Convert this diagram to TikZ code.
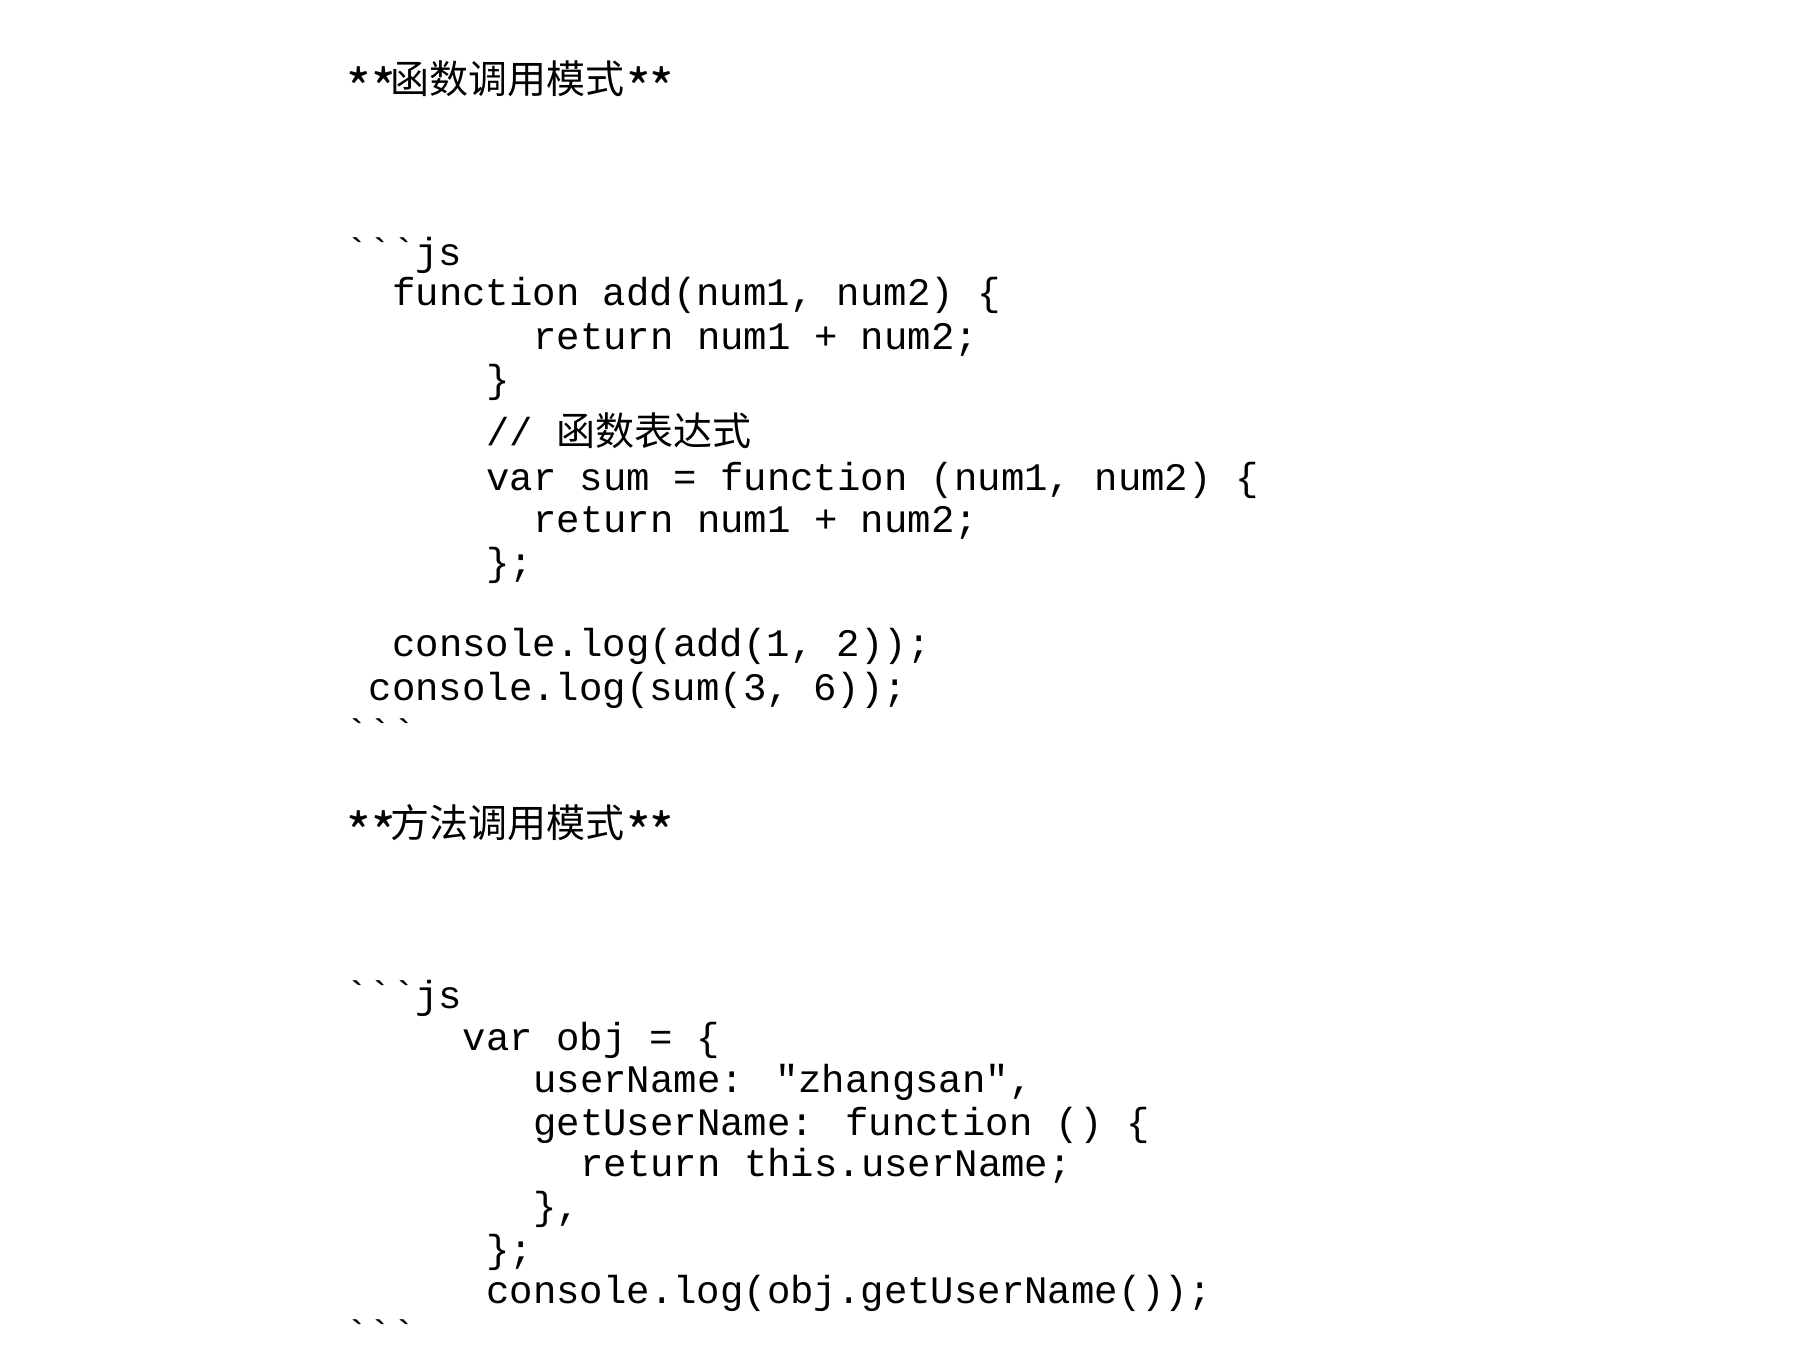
\documentclass[tikz,border=0pt]{standalone}
\usepackage{graphicx}
\usepackage{fontspec}
\newfontfamily\codefont{Liberation Mono}
\newfontfamily\cjk{Noto Sans CJK SC}
\newcommand\titleast{\makebox[17pt]{\raisebox{-15pt}{\scalebox{1.35}{*}}}}
\begin{document}
\begin{tikzpicture}[x=1pt,y=-1pt,
  code/.style={anchor=base west,inner sep=0pt,font=\codefont\fontsize{39}{43}\selectfont},
  heading/.style={anchor=base west,inner sep=0pt,font=\cjk\fontsize{39}{44}\selectfont}]
\useasboundingbox[fill=white] (0,0) rectangle (1815,1362);
% first part
\node[heading] (title1) at (350,94) {\titleast\hspace{8pt}\titleast\hspace{-2pt}函数调用模式\hspace{6pt}\titleast\hspace{6pt}\titleast};
\node[code] (open1) at (345,265) {\textasciigrave\textasciigrave\textasciigrave js};
\node[code] (addfn) at (392,305) {function add(num1, num2) \{};
\node[code] (addret) at (533,349) {return num1 + num2;};
\node[code] (addend) at (486,392) {\}};
\node[code] (comment) at (486,445) {// {\cjk 函数表达式}};
\node[code] (sumfn) at (486,490) {var sum = function (num1, num2) \{};
\node[code] (sumret) at (533,532) {return num1 + num2;};
\node[code] (sumend) at (486,575) {\};};
\node[code] (logadd) at (392,656) {console.log(add(1, 2));};
\node[code] (logsum) at (368.5,700) {console.log(sum(3, 6));};
\node[code] (close1) at (345,746) {\textasciigrave\textasciigrave\textasciigrave};
% second part
\node[heading] (title2) at (350,837) {\titleast\hspace{8pt}\titleast\hspace{-2pt}方法调用模式\hspace{6pt}\titleast\hspace{6pt}\titleast};
\node[code] (open2) at (345,1008) {\textasciigrave\textasciigrave\textasciigrave js};
\node[code] (objvar) at (462.5,1050) {var obj = \{};
\node[code] (objname) at (533,1092) {userName: "zhangsan",};
\node[code] (objget) at (533,1135) {getUserName: function () \{};
\node[code] (objret) at (580,1176) {return this.userName;};
\node[code] (getend) at (533,1219) {\},};
\node[code] (objend) at (486,1262) {\};};
\node[code] (logobj) at (486,1303) {console.log(obj.getUserName());};
\node[code] (close2) at (345,1347) {\textasciigrave\textasciigrave\textasciigrave};
\end{tikzpicture}
\end{document}
